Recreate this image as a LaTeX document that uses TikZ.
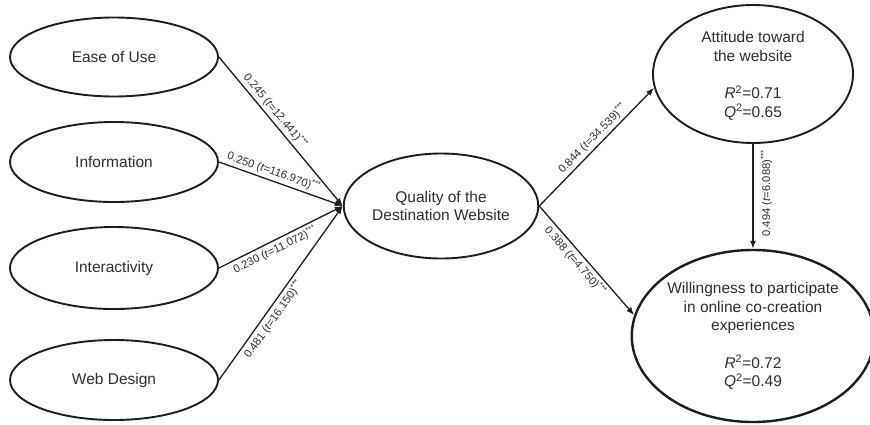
\documentclass[tikz,border=0pt]{standalone}
\usepackage{fontspec}
\setmainfont{Liberation Sans}
\usetikzlibrary{shapes.geometric,arrows.meta}
\definecolor{ink}{HTML}{1E1E1E}
\definecolor{txt}{HTML}{2E2E2E}
\tikzset{
  construct/.style={ellipse, draw=ink, line width=1.9pt, inner sep=0pt, text=txt,
    align=center, font=\fontsize{15.5}{18.6}\selectfont},
  path/.style={draw=ink, line width=1.3pt, -{Latex[length=8pt,width=6pt]}},
  coef/.style={font=\fontsize{11.2}{12}\selectfont, text=txt, sloped, inner sep=2.5pt}
}
\newcommand{\coefl}[2]{#1 (\textit{t}=#2)\textsuperscript{***}}
\begin{document}
\begin{tikzpicture}[x=1pt,y=1pt]
\useasboundingbox (0,0) rectangle (870,-424);
\node[construct, minimum width=208pt, minimum height=79pt] (ease) at (114,-57) {Ease of Use};
\node[construct, minimum width=208pt, minimum height=80pt] (info) at (114,-162) {Information};
\node[construct, minimum width=208pt, minimum height=82pt] (inter) at (114,-268) {Interactivity};
\node[construct, minimum width=208pt, minimum height=80pt] (web) at (114,-380) {Web Design};
\node[construct, minimum width=192pt, minimum height=105pt] (qual) at (441,-206) {Quality of the\\Destination Website};
\node[construct, minimum width=200pt, minimum height=138pt] (att) at (753,-74)
  {\\[-4pt]Attitude toward\\the website\\[18.6pt]\textit{R}\textsuperscript{2}=0.71\\\textit{Q}\textsuperscript{2}=0.65};
\node[construct, line width=2.4pt, minimum width=226pt, minimum height=172pt] (will) at (753,-336)
  {Willingness to participate\\in online co-creation\\experiences\\[18.6pt]\textit{R}\textsuperscript{2}=0.72\\\textit{Q}\textsuperscript{2}=0.49};

\draw[path] (ease.east) -- node[coef, pos=0.4, above] {\coefl{0.245}{12.441}} (qual.west);
\draw[path] (info.east) -- node[coef, pos=0.42, above] {\coefl{0.250}{116.970}} (qual.west);
\draw[path] (inter.east) -- node[coef, pos=0.42, below] {\coefl{0.230}{11.072}} (qual.west);
\draw[path] (web.east) -- node[coef, pos=0.38, below] {\coefl{0.481}{16.150}} (qual.west);
\draw[path] (qual.east) -- node[coef, pos=0.52, above] {\coefl{0.844}{34.539}} (att.188);
\draw[path] (qual.east) -- node[coef, pos=0.45, below] {\coefl{0.388}{4.750}} (will.170);
\draw[path] (att.south) -- node[font=\fontsize{11.2}{12}\selectfont, text=txt, pos=0.47, rotate=90, anchor=north, inner sep=7pt] {\coefl{0.494}{6.088}} (will.north);
\end{tikzpicture}
\end{document}
